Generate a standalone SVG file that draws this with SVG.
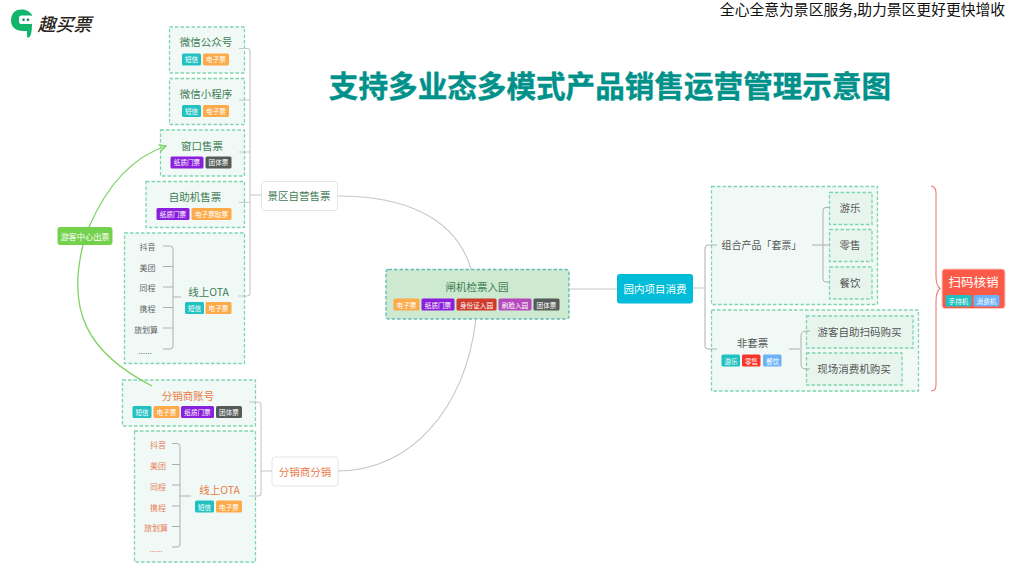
<svg xmlns="http://www.w3.org/2000/svg" width="1014" height="567" viewBox="0 0 1014 567">
<defs>
<marker id="ga" markerWidth="10" markerHeight="10" refX="8" refY="4" orient="auto" markerUnits="userSpaceOnUse"><path d="M1 0.5L8 4L1 7.5" fill="none" stroke="#7ed364" stroke-width="1.4"/></marker>
</defs>
<style>
text{font-family:"Noto Sans CJK SC","Liberation Sans",sans-serif;text-anchor:middle}
.box{fill:#f0f9f6;stroke:#7fd6ae;stroke-width:1.3;stroke-dasharray:3.5 2}
.sub{fill:#e8f5ee;stroke:#7fd6ae;stroke-width:1.3;stroke-dasharray:3.5 2}
.gt{fill:#3f7d55;font-size:10.5px}
.ot{fill:#ea7a45;font-size:10.5px}
.dk{fill:#555;font-size:10.5px}
.sm{fill:#666;font-size:8px}
.sor{fill:#e9805a;font-size:8px}
.tag{fill:#fff;font-size:6.6px}
.ln{fill:none;stroke:#c4c8c6;stroke-width:1.1}
.lnd{fill:none;stroke:#a9b0ac;stroke-width:1}
.teal{fill:#22c1c1}.or{fill:#fdab4a}.pu{fill:#8a1fdc}.gr{fill:#555b58}.rd{fill:#cf3b2c}.mg{fill:#b548bd}.bl{fill:#6cb2f7}.re{fill:#f8352b}
</style>
<rect width="1014" height="567" fill="#fff"/>
<g id="logo">
<path d="M21 9.500C15 9.500 11 14 11 20.500C11 27 16 31 23 31L27 31L27 36C27 38 29 38 30 36.500C31.500 34 32 29 32 24L32 15C30 11.500 26 9.500 21 9.500Z" fill="#10b56c"/>
<rect x="19" y="15.500" width="14" height="8.500" rx="2.500" fill="#fff"/>
<circle cx="23.500" cy="19.700" r="1.300" fill="#10855a"/><circle cx="28" cy="19.700" r="1.300" fill="#10855a"/>
<text x="64.500" y="30.500" style="font-size:18px;font-weight:500;font-style:italic;fill:#2a2320">趣买票</text>
</g>
<text id="slogan" x="862.500" y="15" style="font-size:14.800px;fill:#111">全心全意为景区服务,助力景区更好更快增收</text>
<text id="title" x="610" y="96.500" style="font-size:29.600px;font-weight:700;fill:#00918a;stroke:#00918a;stroke-width:.4">支持多业态多模式产品销售运营管理示意图</text>

<g id="n-gongzhonghao"><rect class="box" x="169.500" y="27" width="75" height="46"/><text class="gt" x="206" y="46">微信公众号</text>
<rect class="teal" x="182" y="53.500" width="19" height="12" rx="1.500"/><text class="tag" x="191.500" y="62">短信</text><rect class="or" x="203" y="53.500" width="26" height="12" rx="1.500"/><text class="tag" x="216" y="62">电子票</text></g>
<g id="n-xiaochengxu"><rect class="box" x="169.500" y="78.500" width="75" height="46"/><text class="gt" x="206" y="98">微信小程序</text>
<rect class="teal" x="182" y="105" width="19" height="12" rx="1.500"/><text class="tag" x="191.500" y="113.500">短信</text><rect class="or" x="203" y="105" width="26" height="12" rx="1.500"/><text class="tag" x="216" y="113.500">电子票</text></g>
<g id="n-chuangkou"><rect class="box" x="160.500" y="130" width="84" height="46"/><text class="gt" x="202" y="150">窗口售票</text>
<rect class="pu" x="170.500" y="156.500" width="33" height="12" rx="1.500"/><text class="tag" x="187" y="165">纸质门票</text><rect class="gr" x="205.500" y="156.500" width="26" height="12" rx="1.500"/><text class="tag" x="218.500" y="165">团体票</text></g>
<g id="n-zizhuji"><rect class="box" x="146" y="181.500" width="98.500" height="46"/><text class="gt" x="195" y="201">自助机售票</text>
<rect class="pu" x="156.500" y="208" width="33" height="12" rx="1.500"/><text class="tag" x="173" y="216.500">纸质门票</text><rect class="or" x="191.500" y="208" width="40" height="12" rx="1.500"/><text class="tag" x="211.500" y="216.500">电子票取票</text></g>
<g id="n-ota1"><rect class="box" x="124.500" y="233" width="120" height="130.500"/>
<text class="sm" x="147.500" y="250">抖音</text><text class="sm" x="147.500" y="270.500">美团</text><text class="sm" x="147.500" y="291">同程</text><text class="sm" x="147.500" y="311.500">携程</text><text class="sm" x="146" y="332.500">旅划算</text><text class="sm" x="145" y="354">......</text>
<text class="gt" x="208.500" y="295.500">线上OTA</text>
<rect class="teal" x="185" y="302" width="19" height="12" rx="1.500"/><text class="tag" x="194.500" y="311">短信</text><rect class="or" x="205.500" y="302" width="26" height="12" rx="1.500"/><text class="tag" x="218.500" y="311">电子票</text></g>
<g id="n-ziying"><rect x="261.500" y="181.500" width="76" height="29" rx="3" fill="#fff" stroke="#e3e5e4"/><text class="gt" x="299" y="200">景区自营售票</text></g>
<g id="n-fenxiaozh"><rect class="box" x="122.500" y="380" width="133" height="46"/><text class="ot" x="188" y="399.500">分销商账号</text>
<rect class="teal" x="132.500" y="406" width="19" height="12" rx="1.500"/><text class="tag" x="142" y="415">短信</text><rect class="or" x="153.500" y="406" width="26" height="12" rx="1.500"/><text class="tag" x="166.500" y="415">电子票</text><rect class="pu" x="181" y="406" width="33" height="12" rx="1.500"/><text class="tag" x="197.500" y="415">纸质门票</text><rect class="gr" x="216" y="406" width="26" height="12" rx="1.500"/><text class="tag" x="229" y="415">团体票</text></g>
<g id="n-ota2"><rect class="box" x="134.500" y="431" width="121" height="131"/>
<text class="sor" x="158" y="448">抖音</text><text class="sor" x="158" y="469">美团</text><text class="sor" x="158" y="489.500">同程</text><text class="sor" x="158" y="510.500">携程</text><text class="sor" x="156" y="531">旅划算</text><text class="sor" x="156" y="552">......</text>
<text class="ot" x="219.500" y="494">线上OTA</text>
<rect class="teal" x="195" y="500.500" width="19" height="12" rx="1.500"/><text class="tag" x="204.500" y="509.500">短信</text><rect class="or" x="216" y="500.500" width="26" height="12" rx="1.500"/><text class="tag" x="229" y="509.500">电子票</text></g>
<g id="n-fenxiao"><rect x="272" y="457" width="66" height="29" rx="3" fill="#fff" stroke="#e3e5e4"/><text class="ot" x="305" y="475.500">分销商分销</text></g>
<g id="n-zhaji"><rect x="386" y="269.500" width="183" height="49.500" rx="2.500" fill="#cde9cf" stroke="#63bdb3" stroke-width="1.400" stroke-dasharray="3.500 2"/><text class="gt" x="477" y="291">闸机检票入园</text>
<rect class="or" x="393.500" y="298.500" width="26" height="12" rx="1.500"/><text class="tag" x="406.500" y="307.500">电子票</text><rect class="pu" x="421.500" y="298.500" width="33" height="12" rx="1.500"/><text class="tag" x="438" y="307.500">纸质门票</text><rect class="rd" x="456.500" y="298.500" width="40" height="12" rx="1.500"/><text class="tag" x="476.500" y="307.500">身份证入园</text><rect class="mg" x="498.500" y="298.500" width="33" height="12" rx="1.500"/><text class="tag" x="515" y="307.500">刷脸入园</text><rect class="gr" x="533.500" y="298.500" width="26" height="12" rx="1.500"/><text class="tag" x="546.500" y="307.500">团体票</text></g>
<g id="n-yuannei"><rect x="617" y="274" width="76" height="29.500" rx="3" fill="#00bcd8"/><text x="655" y="293" style="font-size:10.500px;fill:#fff">园内项目消费</text></g>
<g id="n-taopiao"><rect class="box" x="711.500" y="186.500" width="166" height="118"/><text class="dk" x="761.500" y="249" style="font-size:10px">组合产品「套票」</text></g>
<g id="n-youle"><rect class="sub" x="829.500" y="192.500" width="42.500" height="32"/><text class="dk" x="850" y="212">游乐</text></g>
<g id="n-lingshou"><rect class="sub" x="829.500" y="229.500" width="42.500" height="32"/><text class="dk" x="850" y="249">零售</text></g>
<g id="n-canyin"><rect class="sub" x="829.500" y="267" width="42.500" height="32"/><text class="dk" x="850" y="287">餐饮</text></g>
<g id="n-feitao"><rect class="box" x="711.500" y="310" width="207" height="81"/><text class="dk" x="752.500" y="347">非套票</text>
<rect class="teal" x="721.500" y="354.500" width="18.500" height="12" rx="1.500"/><text class="tag" x="731" y="363.500">游乐</text><rect class="re" x="742" y="354.500" width="18.500" height="12" rx="1.500"/><text class="tag" x="751.500" y="363.500">零售</text><rect class="bl" x="763" y="354.500" width="18.500" height="12" rx="1.500"/><text class="tag" x="772.500" y="363.500">餐饮</text></g>
<g id="n-zizhu"><rect class="sub" x="806.500" y="316" width="106.500" height="32"/><text class="dk" x="859.500" y="335.500">游客自助扫码购买</text></g>
<g id="n-xianchang"><rect class="sub" x="806.500" y="353" width="95.500" height="32"/><text class="dk" x="854" y="373">现场消费机购买</text></g>
<g id="n-saoma"><rect x="942" y="269" width="63" height="39.500" rx="3" fill="#fb5a48" stroke="#f9c8c0"/><text x="973.500" y="287" style="font-size:12.500px;fill:#fff">扫码核销</text>
<rect class="teal" x="945.500" y="295" width="26" height="11.500" rx="1.500"/><text class="tag" x="958.500" y="303.500">手持机</text><rect class="bl" x="973.500" y="295" width="26" height="11.500" rx="1.500"/><text class="tag" x="986.500" y="303.500">消费机</text></g>

<g id="connectors">
<path class="ln" d="M239 48.500H247Q250 48.500 250 51.500V293Q250 296 247 296H238M239 100H250M239 152H250M239 202.500H250M250 195H261"/>
<path class="ln" d="M338 196C400 196 455 215 471 269"/>
<path class="ln" d="M338 471C410 471 465 410 476 319"/>
<path class="ln" d="M569 289H617M693 288H704"/>
<path class="ln" d="M249 402H258Q261 402 261 405V493Q261 496 258 496H249M261 471H272"/>
<path class="lnd" d="M163 246H170Q173 246 173 249V346Q173 349 170 349H163M163 266.500H173M163 287H173M163 307.500H173M163 328H173M173 297H181"/>
<path class="lnd" d="M172 443.500H177Q180 443.500 180 446.500V544Q180 547 177 547H172M172 464.500H180M172 485H180M172 506H180M172 526.500H180M180 496H191"/>
<path class="lnd" d="M717 245H708Q705 245 705 248V346Q705 349 708 349H717"/>
<path class="lnd" d="M812 245H829M829 207.500H826Q823 207.500 823 210.500V279Q823 282 826 282H829"/>
<path class="lnd" d="M789 349H800M810 331H806Q801 331 801 336V364Q801 369 806 369H810"/>
<path d="M931 186C937 187 936 192 936 200V276C936 284 938 287 940 288.500C938 290 936 293 936 301V378C936 386 937 391 931 391" fill="none" stroke="#ec7b76" stroke-width="1.100"/>
<path d="M89 227C105 190 130 158 166 146" fill="none" stroke="#7ed364" stroke-width="1.300" marker-end="url(#ga)"/>
<path d="M83 245C67 310 86 352 152 386" fill="none" stroke="#7ed364" stroke-width="1.300"/>
</g>
<g id="n-youke"><rect x="57.500" y="227" width="55" height="18" rx="3" fill="#74d14c"/><text x="85" y="239.500" style="font-size:8.200px;fill:#fff">游客中心出票</text></g>
</svg>
